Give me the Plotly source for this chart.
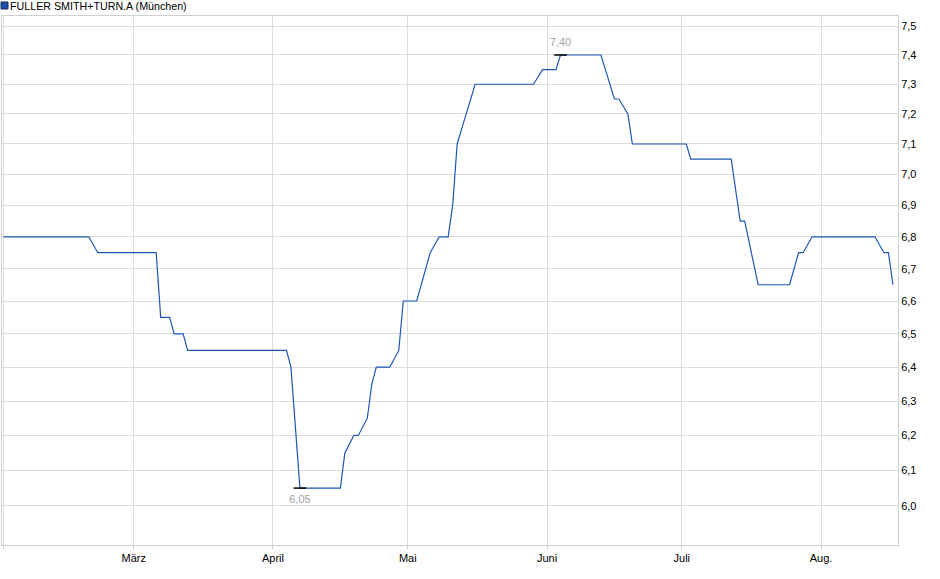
import numpy as np
import plotly.graph_objects as go

title_text = "FULLER SMITH+TURN.A (München)"

dates = ["2024-02-01", "2024-02-20", "2024-02-22", "2024-03-06", "2024-03-07",
         "2024-03-09", "2024-03-10", "2024-03-12", "2024-03-13", "2024-04-04",
         "2024-04-05", "2024-04-07", "2024-04-16", "2024-04-17", "2024-04-19",
         "2024-04-20", "2024-04-22", "2024-04-23", "2024-04-24", "2024-04-27",
         "2024-04-29", "2024-04-30", "2024-05-03", "2024-05-04", "2024-05-06",
         "2024-05-08", "2024-05-10", "2024-05-11", "2024-05-12", "2024-05-13",
         "2024-05-14", "2024-05-15", "2024-05-16", "2024-05-29", "2024-05-31",
         "2024-06-03", "2024-06-04", "2024-06-13", "2024-06-15", "2024-06-16",
         "2024-06-17", "2024-06-19", "2024-06-20", "2024-07-02", "2024-07-03",
         "2024-07-12", "2024-07-14", "2024-07-15", "2024-07-18", "2024-07-25",
         "2024-07-27", "2024-07-28", "2024-07-30", "2024-08-13", "2024-08-15",
         "2024-08-16", "2024-08-17"]

prices = [6.80, 6.80, 6.75, 6.75, 6.55, 6.55, 6.50, 6.50, 6.45, 6.45,
          6.40, 6.05, 6.05, 6.15, 6.20, 6.20, 6.25, 6.35, 6.40, 6.40,
          6.45, 6.60, 6.60, 6.65, 6.75, 6.80, 6.80, 6.90, 7.10, 7.15,
          7.20, 7.25, 7.30, 7.30, 7.35, 7.35, 7.40, 7.40, 7.30, 7.25,
          7.25, 7.20, 7.10, 7.10, 7.05, 7.05, 6.85, 6.85, 6.65, 6.65,
          6.75, 6.75, 6.80, 6.80, 6.75, 6.75, 6.65]

month_ticks = ["2024-02-01", "2024-03-01", "2024-04-01", "2024-05-01",
               "2024-06-01", "2024-07-01", "2024-08-01"]
month_labels = ["", "März", "April", "Mai", "Juni", "Juli", "Aug."]

y_ticks = [6.0, 6.1, 6.2, 6.3, 6.4, 6.5, 6.6, 6.7, 6.8, 6.9, 7.0, 7.1, 7.2, 7.3, 7.4, 7.5]

LINE = "#1c57b8"
GRID = "#dcdcdc"
FONT = "Liberation Sans, Arial, sans-serif"

i_min = int(np.argmin(prices))
i_max = int(np.argmax(prices))

fig = go.Figure()
fig.add_trace(go.Scatter(x=dates, y=prices, mode="lines",
                         line=dict(color=LINE, width=1.2), hoverinfo="skip"))
fig.add_trace(go.Scatter(x=[dates[i_min]], y=[prices[i_min]], mode="markers+text",
                         marker=dict(symbol="line-ew", size=9,
                                     line=dict(color="#000000", width=1.5)),
                         text=[prices[i_min]], texttemplate="%{y:.2f}",
                         textposition="bottom center", hoverinfo="skip",
                         textfont=dict(family=FONT, size=11, color="#a3a3a3")))
fig.add_trace(go.Scatter(x=[dates[i_max]], y=[prices[i_max]], mode="markers+text",
                         marker=dict(symbol="line-ew", size=9,
                                     line=dict(color="#000000", width=1.5)),
                         text=[prices[i_max]], texttemplate="%{y:.2f}",
                         textposition="top center", hoverinfo="skip",
                         textfont=dict(family=FONT, size=11, color="#a3a3a3")))

fig.update_layout(
    width=940, height=579,
    margin=dict(l=2, r=42, t=16, b=34),
    paper_bgcolor="#ffffff", plot_bgcolor="#ffffff",
    showlegend=False,
    separators=",.",
    font=dict(family=FONT, size=11, color="#000000"),
    xaxis=dict(type="date",
               range=["2024-01-31 16:19", "2024-08-18 03:07"],
               tickvals=month_ticks, ticktext=month_labels,
               showgrid=True, gridcolor=GRID, gridwidth=1,
               showline=True, linecolor="#d0d0d0", linewidth=1, mirror=True,
               ticks="outside", ticklen=3, tickcolor="#c8c8c8",
               zeroline=False, tickfont=dict(size=11, color="#000000")),
    yaxis=dict(type="log",
               range=[np.log10(5.892), np.log10(7.5354)],
               side="right",
               tickvals=y_ticks, tickformat=".1f",
               showgrid=True, gridcolor=GRID, gridwidth=1,
               showline=True, linecolor="#d0d0d0", linewidth=1, mirror=True,
               ticks="", zeroline=False,
               tickfont=dict(size=11, color="#000000")),
)

fig.add_shape(type="rect", xref="paper", yref="paper",
              xsizemode="pixel", ysizemode="pixel", xanchor=0, yanchor=1,
              x0=-1, x1=6, y0=7, y1=14,
              fillcolor="#1c50b0", line=dict(color="#1a2a55", width=1))
fig.add_annotation(text=title_text, xref="paper", yref="paper",
                   x=0, y=1, xanchor="left", yanchor="middle",
                   xshift=6, yshift=10, showarrow=False,
                   font=dict(family=FONT, size=10.7, color="#000000"))

fig.write_html("out.html", config={"displayModeBar": False},
               post_script="document.body.style.margin='0';")
